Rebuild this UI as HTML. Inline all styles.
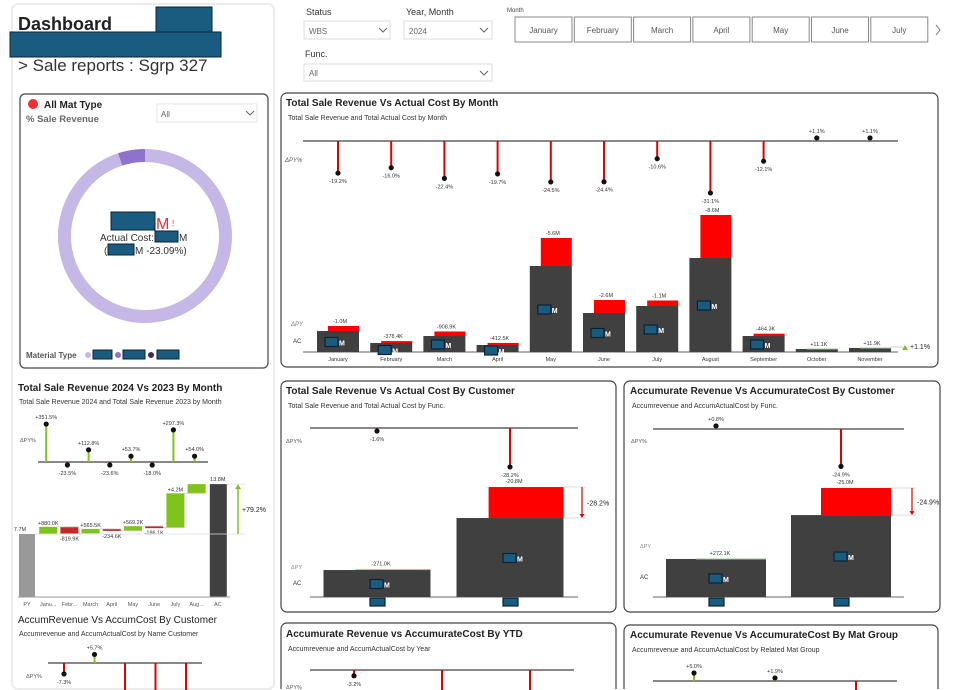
<!DOCTYPE html>
<html><head><meta charset="utf-8">
<style>
body{margin:0;background:#fff;width:960px;height:690px;overflow:hidden;font-family:"Liberation Sans",sans-serif;}
svg{position:absolute;left:0;top:0}
text{font-family:"Liberation Sans",sans-serif;}
</style></head>
<body>
<svg id="s" width="960" height="690" viewBox="0 0 960 690" xmlns="http://www.w3.org/2000/svg">
<rect x="12" y="4" width="262" height="685" rx="6" fill="#fff" stroke="#ececec" stroke-width="2"/>
<text x="18" y="30" font-size="18" font-weight="bold" fill="#222">Dashboard</text>
<rect x="156" y="7" width="56" height="27" fill="#1a5c80" stroke="#0b2233"/>
<rect x="10" y="32" width="211" height="25" fill="#1a5c80" stroke="#0b2233"/>
<text x="18" y="71" font-size="17" fill="#333">&gt; Sale reports : Sgrp 327</text>

<g>
<text x="306" y="15" font-size="9" fill="#333">Status</text>
<rect x="304" y="21" width="86" height="18" fill="#fff" stroke="#ddd"/>
<text x="309" y="34" font-size="8" fill="#666">WBS</text>
<path d="M379 28l4 4 4-4" fill="none" stroke="#666"/>
</g>
<g>
<text x="406" y="15" font-size="9" fill="#333">Year, Month</text>
<rect x="404" y="21" width="88" height="18" fill="#fff" stroke="#ddd"/>
<text x="409" y="34" font-size="8" fill="#666">2024</text>
<path d="M480 28l4 4 4-4" fill="none" stroke="#666"/>
</g>
<g>
<text x="305" y="57" font-size="9" fill="#333">Func.</text>
<rect x="304" y="64" width="188" height="17" fill="#fff" stroke="#ddd"/>
<text x="309" y="76" font-size="8" fill="#666">All</text>
<path d="M480 71l4 4 4-4" fill="none" stroke="#666"/>
</g>
<text x="507" y="12" font-size="6" fill="#444">Month</text>
<g id="monthBtns"></g>
<path d="M936 25l4 5-4 5" fill="none" stroke="#777"/>

<rect x="20" y="94" width="248" height="274" rx="5" fill="#fff" stroke="#444" stroke-width="1.2"/>
<circle cx="33" cy="104" r="5" fill="#f03030"/>
<text x="44" y="108" font-size="10" font-weight="bold" fill="#222">All Mat Type</text>
<text x="26" y="122" font-size="9.5" font-weight="bold" fill="#666">% Sale Revenue</text>
<g>
<rect x="157" y="104" width="100" height="18" fill="#fff" stroke="#e5e5e5"/>
<text x="161" y="117" font-size="8" fill="#666">All</text>
<path d="M246 111l4 4 4-4" fill="none" stroke="#666"/>
</g>
<g id="donut"></g>
<rect x="111" y="212" width="44" height="18" fill="#1a5c80" stroke="#0b2233"/>
<text x="156" y="229" font-size="16" fill="#e03040">M</text>
<text x="172" y="226" font-size="8" fill="#e03040">!</text>
<text x="100" y="241" font-size="10" fill="#333">Actual Cost:</text>
<rect x="155" y="231" width="23" height="11" fill="#1a5c80" stroke="#0b2233"/>
<text x="179" y="241" font-size="10" fill="#333">M</text>
<text x="104" y="254" font-size="10" fill="#333">(</text>
<rect x="108" y="244" width="26" height="11" fill="#1a5c80" stroke="#0b2233"/>
<text x="135" y="254" font-size="10" fill="#333">M -23.09%)</text>
<g>
<text x="26" y="358" font-size="8" font-weight="bold" fill="#555">Material Type</text>
<circle cx="88" cy="355" r="3" fill="#c5b7e6"/><rect x="93" y="350" width="19" height="9" fill="#1a5c80" stroke="#0b2233"/>
<circle cx="118" cy="355" r="3" fill="#8f72cc"/><rect x="123" y="350" width="22" height="9" fill="#1a5c80" stroke="#0b2233"/>
<circle cx="151" cy="355" r="3" fill="#3a2a5c"/><rect x="157" y="350" width="22" height="9" fill="#1a5c80" stroke="#0b2233"/>
</g>

<rect x="281" y="93" width="657" height="274" rx="6" fill="#fff" stroke="#444" stroke-width="1.2"/>
<text x="286" y="106" font-size="10" font-weight="bold" fill="#222">Total Sale Revenue Vs Actual Cost By Month</text>
<text x="288" y="120" font-size="7" fill="#333">Total Sale Revenue and Total Actual Cost by Month</text>
<text x="285" y="162" font-size="6" fill="#555" font-style="italic">ΔPY%</text>
<text x="291" y="326" font-size="6" fill="#777" font-style="italic">ΔPY</text>
<text x="293" y="343" font-size="6" fill="#333">AC</text>
<g id="monthChart"></g>

<text x="18" y="391" font-size="10" font-weight="bold" fill="#222">Total Sale Revenue 2024 Vs 2023 By Month</text>
<text x="19" y="404" font-size="7" fill="#333">Total Sale Revenue 2024 and Total Sale Revenue 2023 by Month</text>
<text x="20" y="442" font-size="5.5" fill="#555">ΔPY%</text>
<g id="waterfall"></g>

<text x="18" y="623" font-size="10" fill="#222">AccumRevenue Vs AccumCost By Customer</text>
<text x="19" y="636" font-size="7" fill="#333">Accumrevenue and AccumActualCost by Name Customer</text>
<text x="26" y="678" font-size="5.5" fill="#555">ΔPY%</text>
<g id="accCust"></g>

<rect x="281" y="381" width="335" height="231" rx="6" fill="#fff" stroke="#444" stroke-width="1.2"/>
<text x="286" y="394" font-size="10" font-weight="bold" fill="#222">Total Sale Revenue Vs Actual Cost By Customer</text>
<text x="288" y="408" font-size="7" fill="#333">Total Sale Revenue and Total Actual Cost by Func.</text>
<text x="286" y="443" font-size="5.5" fill="#555">ΔPY%</text>
<text x="291" y="569" font-size="5.5" fill="#888">ΔPY</text>
<text x="293" y="585" font-size="6" fill="#333">AC</text>
<g id="cust"></g>

<rect x="624" y="381" width="316" height="231" rx="6" fill="#fff" stroke="#444" stroke-width="1.2"/>
<text x="630" y="394" font-size="10" font-weight="bold" fill="#222">Accumurate Revenue Vs AccumurateCost By Customer</text>
<text x="632" y="408" font-size="7" fill="#333">Accumrevenue and AccumActualCost by Func.</text>
<text x="631" y="443" font-size="5.5" fill="#555">ΔPY%</text>
<text x="640" y="548" font-size="5.5" fill="#888">ΔPY</text>
<text x="640" y="579" font-size="6" fill="#333">AC</text>
<g id="acc"></g>

<path d="M281 689V629a6 6 0 0 1 6-6h323a6 6 0 0 1 6 6V689" fill="#fff" stroke="#444" stroke-width="1.2"/>
<text x="286" y="637" font-size="10" font-weight="bold" fill="#222">Accumurate Revenue vs AccumurateCost By YTD</text>
<text x="288" y="651" font-size="7" fill="#333">Accumrevenue and AccumActualCost by Year</text>
<text x="286" y="689" font-size="5.5" fill="#555">ΔPY%</text>
<g id="ytd"></g>
<path d="M624 689V631a6 6 0 0 1 6-6h302a6 6 0 0 1 6 6V689" fill="#fff" stroke="#444" stroke-width="1.2"/>
<text x="630" y="638" font-size="10" font-weight="bold" fill="#222">Accumurate Revenue Vs AccumurateCost By Mat Group</text>
<text x="632" y="652" font-size="7" fill="#333">Accumrevenue and AccumActualCost by Related Mat Group</text>
<g id="mat"></g>
</svg>
<script>
const sliderMonths=["January","February","March","April","May","June","July"];
const months=["January","February","March","April","May","June","July","August","September","October","November"];
const acValues=[4.2,1.8,3.2,1.4,17.2,7.8,9.2,18.8,3.2,0.6,0.8];
const pyDelta=[-1.0,-0.378,-0.909,-0.4125,-5.6,-2.6,-1.1,-8.6,-0.464,0.011,0.012];
const deltaLabels=["-1.0M","-378.4K","-908.9K","-412.5K","-5.6M","-2.6M","-1.1M","-8.6M","-464.3K","+11.1K","+11.9K"];
const deltaPct=[-19.2,-16.0,-22.4,-19.7,-24.5,-24.4,-10.6,-31.1,-12.1,1.1,1.1];
const donutShares=[95,5];
const wfCats=["PY","Janu...","Febr...","March","April","May","June","July","Aug...","AC"];
const wfStart=7.7;
const wfSteps=[0.88,-0.8198,0.5655,-0.2346,0.5692,-0.1861,4.2,1.126];
const wfStepLabels=["+880.0K","-819.9K","+565.5K","-234.6K","+569.2K","-186.1K","+4.2M",""];
const wfPct=[351.5,-23.5,112.8,-23.6,53.7,-18.0,297.3,54.0];
const accCustPct=[-7.3,5.7,-60,-60,-60];
const custAC=[18.1,53.0];
const custPY=[18.37,73.8];
const custPct=[-1.6,-28.2];
const custLabels=["-271.0K","-20.8M"];
const accAC=[24.7,53.2];
const accPY=[24.4,70.8];
const accPct=[0.8,-24.9];
const accLabels=["+272.1K","-25.0M"];
const ytdPct=[-3.2,-60,-60];
const matPct=[5.0,1.9,-60];

const NS="http://www.w3.org/2000/svg";
function el(p,tag,attrs,txt){const e=document.createElementNS(NS,tag);for(const k in attrs)e.setAttribute(k,attrs[k]);if(txt!==undefined)e.textContent=txt;p.appendChild(e);return e;}
const G=id=>document.getElementById(id);

sliderMonths.forEach((m,i)=>{const g=el(G('monthBtns'),'g',{});


const x=515+i*59.3;el(g,'rect',{x:x,y:17,width:57,height:25,fill:'#fff',stroke:'#888'});
el(g,'text',{x:x+28.5,y:33,'font-size':8,fill:'#555','text-anchor':'middle'},m);});

(function(){const g=G('donut');const cx=145,cy=236,r=80.5,w=13;const tot=donutShares.reduce((a,b)=>a+b,0);
let a0=0;const cols=['#c5b7e6','#8f72cc'];
donutShares.forEach((v,i)=>{const a1=a0+v/tot*2*Math.PI;
const p=(a)=>[cx+r*Math.sin(a),cy-r*Math.cos(a)];const [x0,y0]=p(a0),[x1,y1]=p(a1);
const path=el(g,'path',{d:`M${x0} ${y0}A${r} ${r} 0 ${a1-a0>Math.PI?1:0} 1 ${x1} ${y1}`,fill:'none',stroke:cols[i],'stroke-width':w});


a0=a1;});})();

function box(g,x,y,withM){el(g,'rect',{x:x,y:y,width:13,height:9,fill:'#1a5c80',stroke:'#0b2233','stroke-width':1.2});
if(withM)el(g,'text',{x:x+14,y:y+8,'font-size':7,'font-weight':'bold',fill:'#fff'},'M');}
function lollipop(g,x,y0,pct,scale,label,minLen){
const len=Math.max(Math.abs(pct)*scale,minLen||3);const neg=pct<0;const y1=neg?y0+len:y0-len;
const l=el(g,'line',{x1:x,y1:y0,x2:x,y2:y1,stroke:neg?'#e00000':'#7fc31c','stroke-width':2});


el(g,'circle',{cx:x,cy:y1,r:2.6,fill:'#111'});
if(label!==null){if(neg)el(g,'text',{x:x,y:y1+10,'font-size':5.5,fill:'#333','text-anchor':'middle'},label);
else el(g,'text',{x:x,y:y1-5,'font-size':5.5,fill:'#333','text-anchor':'middle'},label);}
}
const fmtPct=v=>(v>0?'+':'')+v.toFixed(1)+'%';

(function(){const g=G('monthChart');const base=352,ppm=5,x0=338,step=53.2,lineY=141,pps=1.67;
el(g,'line',{x1:303,y1:lineY,x2:898,y2:lineY,stroke:'#888','stroke-width':2});
el(g,'line',{x1:303,y1:base,x2:898,y2:base,stroke:'#999','stroke-width':1.5});
months.forEach((m,i)=>{const c=x0+i*step;const ac=acValues[i],py=ac-pyDelta[i];
const hAc=ac*ppm,hPy=py*ppm;
if(pyDelta[i]<0){const r=el(g,'rect',{x:c-10,y:base-hPy,width:31,height:hPy-hAc,fill:'#f00'});

}
const b=el(g,'rect',{x:c-21,y:base-hAc,width:42,height:hAc,fill:'#404040'});


if(pyDelta[i]>=0)el(g,'line',{x1:c-10,y1:base-hPy,x2:c+21,y2:base-hPy,stroke:'#9c9','stroke-width':1});
const top=base-Math.max(hAc,hPy);
el(g,'text',{x:c+2,y:top-3,'font-size':5.5,fill:'#333','text-anchor':'middle'},deltaLabels[i]);
if(i<9){box(g,c-13,base-Math.max(hAc/2,hAc>12?hAc/2:4)-4+(hAc<12?2:0),true);}
el(g,'text',{x:c,y:361,'font-size':5.5,fill:'#333','text-anchor':'middle'},m);
lollipop(g,c,lineY,deltaPct[i],pps,fmtPct(deltaPct[i]),3);});
el(g,'path',{d:'M902 350l3-5 3 5z',fill:'#7fc31c'});
el(g,'line',{x1:890,y1:347,x2:903,y2:347,stroke:'#ccc'});
el(g,'text',{x:910,y:349,'font-size':7,fill:'#222'},'+1.1%');})();

(function(){const g=G('waterfall');const base=597,ppm=8.18,x0=27,step=21.2,lineY=462,pps=0.108;
el(g,'line',{x1:38,y1:lineY,x2:208,y2:lineY,stroke:'#888','stroke-width':2});
const y=v=>base-v*ppm;
const py=el(g,'rect',{x:x0-8,y:y(wfStart),width:16,height:wfStart*ppm,fill:'#999'});


el(g,'text',{x:x0-7,y:y(wfStart)-3,'font-size':5.5,fill:'#333','text-anchor':'middle'},wfStart.toFixed(1)+'M');
let cum=wfStart;
wfSteps.forEach((d,i)=>{const c=x0+(i+1)*step;const a=cum,b=cum+d;
const r=el(g,'rect',{x:c-9,y:y(Math.max(a,b)),width:18,height:Math.max(Math.abs(d)*ppm,2),fill:d>=0?'#7fc31c':'#c62828'});


el(g,'line',{x1:c-12,y1:y(a),x2:c+9,y2:y(a),stroke:'#ccc','stroke-width':0.8});
if(wfStepLabels[i])el(g,'text',{x:c,y:d>=0?y(b)-2:y(b)+7,'font-size':5.5,fill:'#333','text-anchor':'middle'},wfStepLabels[i]);
lollipop(g,c-2,lineY,wfPct[i],pps,fmtPct(wfPct[i]),3);
cum=b;});
const ac=cum;const cA=x0+9*step;
const acb=el(g,'rect',{x:cA-8,y:y(ac),width:17,height:ac*ppm,fill:'#404040'});


el(g,'text',{x:cA,y:y(ac)-3,'font-size':5.5,fill:'#333','text-anchor':'middle'},ac.toFixed(1)+'M');
el(g,'line',{x1:x0+8,y1:y(wfStart),x2:245,y2:y(wfStart),stroke:'#ddd','stroke-width':0.8});
el(g,'line',{x1:cA+9,y1:y(ac),x2:245,y2:y(ac),stroke:'#ddd','stroke-width':0.8});
el(g,'line',{x1:238,y1:y(wfStart),x2:238,y2:y(ac)+4,stroke:'#7fc31c','stroke-width':1.5});
el(g,'path',{d:`M235 ${y(ac)+5}l3-5 3 5z`,fill:'#7fc31c'});
el(g,'text',{x:242,y:y((wfStart+ac)/2)+3,'font-size':7,fill:'#222'},fmtPct((ac/wfStart-1)*100));
el(g,'line',{x1:18,y1:base,x2:230,y2:base,stroke:'#999'});
wfCats.forEach((c,i)=>el(g,'text',{x:x0+i*step,y:606,'font-size':5.5,fill:'#555','text-anchor':'middle'},c));})();

(function(){const g=G('accCust');const lineY=663;el(g,'line',{x1:48,y1:lineY,x2:202,y2:lineY,stroke:'#888','stroke-width':2});
accCustPct.forEach((p,i)=>{const c=64+i*30.5;lollipop(g,c,lineY,p,1.5,Math.abs(p)<20?fmtPct(p):null,3);});})();

function twoBar(gid,x0,step,bw,lineL,lineR,lineY,AC,PY,pct,labels,arrowX,ppm,pps){
const g=G(gid);const base=597;
el(g,'line',{x1:lineL,y1:lineY,x2:lineR,y2:lineY,stroke:'#888','stroke-width':2});
el(g,'line',{x1:lineL,y1:base,x2:lineR,y2:base,stroke:'#999','stroke-width':1.5});
AC.forEach((a,i)=>{const c=x0+i*step;const hA=a*ppm,hP=PY[i]*ppm;
if(PY[i]>a){const r=el(g,'rect',{x:c-bw/2+bw*0.3,y:base-hP,width:bw*0.7,height:hP-hA,fill:'#f00'});

}
const b=el(g,'rect',{x:c-bw/2,y:base-hA,width:bw,height:hA,fill:'#404040'});


if(PY[i]<=a)el(g,'line',{x1:c-bw/2+bw*0.3,y1:base-hA,x2:c+bw/2,y2:base-hA,stroke:'#9c9'});
el(g,'text',{x:c+4,y:base-Math.max(hA,hP)-4,'font-size':5.5,fill:'#333','text-anchor':'middle'},labels[i]);
box(g,c-7,base-hA/2-4,true);
el(g,'rect',{x:c-7,y:598,width:15,height:8,fill:'#1a5c80',stroke:'#0b2233','stroke-width':1.2});
lollipop(g,c,lineY,pct[i],pps,fmtPct(pct[i]),3);
if(PY[i]>a && Math.abs(pct[i])>5){const yt=base-hP,yb=base-hA;
el(g,'line',{x1:c+bw/2,y1:yt,x2:arrowX+4,y2:yt,stroke:'#ddd'});
el(g,'line',{x1:c+bw/2,y1:yb,x2:arrowX+4,y2:yb,stroke:'#ddd'});
el(g,'line',{x1:arrowX,y1:yt,x2:arrowX,y2:yb-3,stroke:'#e00000','stroke-width':1.2});
el(g,'path',{d:`M${arrowX-2.5} ${yb-4}l2.5 4 2.5-4z`,fill:'#e00000'});
el(g,'text',{x:arrowX+5,y:(yt+yb)/2+3,'font-size':7,fill:'#222'},((a/PY[i]-1)*100).toFixed(1)+'%');}});}
twoBar('cust',377,133,107,310,578,428,custAC,custPY,custPct,custLabels,582,1.49,1.38);
twoBar('acc',716,125,100,653,904,429,accAC,accPY,accPct,accLabels,912,1.54,1.5);

(function(){const g=G('ytd');el(g,'line',{x1:310,y1:670,x2:574,y2:670,stroke:'#888','stroke-width':2});
ytdPct.forEach((p,i)=>lollipop(g,354+i*88,670,p,1.8,Math.abs(p)<20?fmtPct(p):null,3));})();
(function(){const g=G('mat');el(g,'line',{x1:653,y1:681,x2:897,y2:681,stroke:'#888','stroke-width':2});
matPct.forEach((p,i)=>lollipop(g,694+i*81,681,p,1.6,Math.abs(p)<20?fmtPct(p):null,3));})();
</script>
</body></html>
